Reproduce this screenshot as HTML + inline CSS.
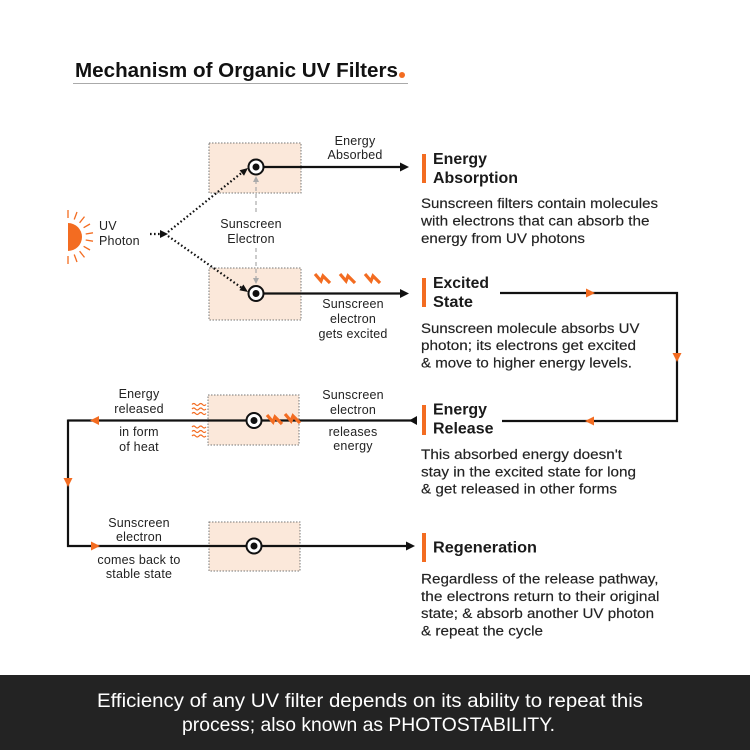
<!DOCTYPE html>
<html><head><meta charset="utf-8"><style>
html,body{margin:0;padding:0;background:#fff;}
svg{display:block;font-family:"Liberation Sans",Arial,sans-serif;}
.lbl{font-size:12.5px;fill:#222;letter-spacing:0.2px;text-anchor:middle;}
.hd{font-size:15.5px;font-weight:bold;fill:#1a1a1a;}
.bd{font-size:13.5px;fill:#222;stroke:#222;stroke-width:0.15px;}
</style></head><body>
<svg width="750" height="750" viewBox="0 0 750 750" xmlns="http://www.w3.org/2000/svg">
<rect width="750" height="750" fill="#fff"/>
<!-- Title -->
<text x="75" y="77" font-size="20" font-weight="bold" fill="#111" textLength="323" lengthAdjust="spacingAndGlyphs">Mechanism of Organic UV Filters</text>
<circle cx="402" cy="75" r="3" fill="#f36c21"/>
<line x1="73" y1="83.5" x2="408" y2="83.5" stroke="#aaa" stroke-width="1"/>

<!-- Boxes -->
<g fill="#fbe8da" stroke="#777" stroke-width="1" stroke-dasharray="1.5 1.5">
<rect x="209" y="143" width="92" height="50"/>
<rect x="209" y="268" width="92" height="52"/>
<rect x="208" y="395" width="91" height="50"/>
<rect x="209" y="522" width="91" height="49"/>
</g>

<!-- Sun -->
<path d="M68,223 A14,14 0 0 1 68,251 Z" fill="#f36c21"/>
<g stroke="#f36c21" stroke-width="1.3">
<line x1="68" y1="218" x2="68" y2="210"/>
<line x1="74.2" y1="219.5" x2="77" y2="212"/>
<line x1="79.6" y1="222.8" x2="84.5" y2="216.6"/>
<line x1="83.6" y1="227.7" x2="90" y2="224"/>
<line x1="85.7" y1="234" x2="93" y2="232.8"/>
<line x1="85.7" y1="240" x2="93" y2="241.2"/>
<line x1="83.6" y1="246.3" x2="90" y2="250"/>
<line x1="79.6" y1="251.2" x2="84.5" y2="257.4"/>
<line x1="74.2" y1="254.5" x2="77" y2="262"/>
<line x1="68" y1="256" x2="68" y2="264"/>
</g>
<text x="99" y="230" font-size="12.5" fill="#222" letter-spacing="0.2">UV</text>
<text x="99" y="245" font-size="12.5" fill="#222" letter-spacing="0.2">Photon</text>

<!-- Dotted photon lines -->
<g stroke="#111" stroke-width="2.2" stroke-dasharray="1.6 2.4" fill="none">
<line x1="150" y1="234" x2="161" y2="234"/>
<line x1="168" y1="232" x2="242" y2="172.5"/>
<line x1="168" y1="236" x2="242" y2="288"/>
</g>
<polygon points="168,234 160,230 160,238" fill="#111"/>
<polygon points="248,168 244,175.7 239.6,170.3" fill="#111"/>
<polygon points="248,292 239.4,290.3 243.4,284.5" fill="#111"/>

<!-- Gray dashed vertical -->
<g stroke="#aaa" stroke-width="1.2" stroke-dasharray="4 3">
<line x1="256" y1="180" x2="256" y2="214"/>
<line x1="256" y1="248" x2="256" y2="280"/>
</g>
<polygon points="256,176 253,182 259,182" fill="#aaa"/>
<polygon points="256,284 253,278 259,278" fill="#aaa"/>
<text class="lbl" x="251" y="228">Sunscreen</text>
<text class="lbl" x="251" y="243">Electron</text>

<!-- Black connector lines -->
<g stroke="#111" stroke-width="2.2" fill="none">
<line x1="262" y1="167" x2="401" y2="167"/>
<line x1="262" y1="293.5" x2="401" y2="293.5"/>
<line x1="68" y1="420.5" x2="412" y2="420.5"/>
<line x1="68" y1="419.5" x2="68" y2="547"/>
<line x1="67" y1="546" x2="407" y2="546"/>
<polyline points="500,293 677,293 677,421 502,421"/>
</g>
<polygon points="409,167 400,162.5 400,171.5" fill="#111"/>
<polygon points="409,293.5 400,289 400,298" fill="#111"/>
<polygon points="409,420.5 417,416 417,425" fill="#111"/>
<polygon points="415,546 406,541.5 406,550.5" fill="#111"/>

<!-- Orange flow arrows -->
<g fill="#f36c21">
<polygon points="595,293 586,288.5 586,297.5"/>
<polygon points="677,362 672.5,353 681.5,353"/>
<polygon points="585,421 594,416.5 594,425.5"/>
<polygon points="90,420.5 99,416 99,425"/>
<polygon points="68,487 63.5,478 72.5,478"/>
<polygon points="100,546 91,541.5 91,550.5"/>
</g>

<!-- Electron circles -->
<g>
<circle cx="256" cy="167" r="7.5" fill="#fff" stroke="#111" stroke-width="2"/>
<circle cx="256" cy="167" r="3.5" fill="#111"/>
<circle cx="256" cy="293.5" r="7.5" fill="#fff" stroke="#111" stroke-width="2"/>
<circle cx="256" cy="293.5" r="3.5" fill="#111"/>
<circle cx="254" cy="420.5" r="7.5" fill="#fff" stroke="#111" stroke-width="2"/>
<circle cx="254" cy="420.5" r="3.5" fill="#111"/>
<circle cx="254" cy="546" r="7.5" fill="#fff" stroke="#111" stroke-width="2"/>
<circle cx="254" cy="546" r="3.5" fill="#111"/>
</g>

<!-- Lightning bolts -->
<g stroke="#f36c21" stroke-width="3.2" fill="none" stroke-linejoin="miter">
<polyline points="315,274 321,281 323,276 330,283"/>
<polyline points="340,274 346,281 348,276 355,283"/>
<polyline points="365,274 371,281 373,276 380,283"/>
<polyline points="267,415 273,422 275,417 282,424"/>
<polyline points="285,414 291,421 293,416 300,423"/>
</g>

<!-- Heat waves -->
<g stroke="#f36c21" stroke-width="1.2" fill="none">
<path d="M192,404.5 q1.75,-2 3.5,0 t3.5,0 t3.5,0 t3.5,0"/>
<path d="M192,409 q1.75,-2 3.5,0 t3.5,0 t3.5,0 t3.5,0"/>
<path d="M192,413.5 q1.75,-2 3.5,0 t3.5,0 t3.5,0 t3.5,0"/>
<path d="M192,427 q1.75,-2 3.5,0 t3.5,0 t3.5,0 t3.5,0"/>
<path d="M192,431.5 q1.75,-2 3.5,0 t3.5,0 t3.5,0 t3.5,0"/>
<path d="M192,436 q1.75,-2 3.5,0 t3.5,0 t3.5,0 t3.5,0"/>
</g>

<!-- Small labels -->
<text class="lbl" x="355" y="145">Energy</text>
<text class="lbl" x="355" y="159">Absorbed</text>
<text class="lbl" x="353" y="308">Sunscreen</text>
<text class="lbl" x="353" y="323">electron</text>
<text class="lbl" x="353" y="338">gets excited</text>
<text class="lbl" x="139" y="398">Energy</text>
<text class="lbl" x="139" y="413">released</text>
<text class="lbl" x="139" y="436">in form</text>
<text class="lbl" x="139" y="451">of heat</text>
<text class="lbl" x="353" y="399">Sunscreen</text>
<text class="lbl" x="353" y="414">electron</text>
<text class="lbl" x="353" y="436">releases</text>
<text class="lbl" x="353" y="450">energy</text>
<text class="lbl" x="139" y="527">Sunscreen</text>
<text class="lbl" x="139" y="541">electron</text>
<text class="lbl" x="139" y="564">comes back to</text>
<text class="lbl" x="139" y="578">stable state</text>

<!-- Right column -->
<g fill="#f36c21">
<rect x="422" y="154" width="4" height="29"/>
<rect x="422" y="278" width="4" height="29"/>
<rect x="422" y="405" width="4" height="30"/>
<rect x="422" y="533" width="4" height="29"/>
</g>
<text class="hd" x="433" y="164" textLength="54" lengthAdjust="spacingAndGlyphs">Energy</text>
<text class="hd" x="433" y="183" textLength="85" lengthAdjust="spacingAndGlyphs">Absorption</text>
<text class="bd" x="421" y="208" textLength="237" lengthAdjust="spacingAndGlyphs">Sunscreen filters contain molecules</text>
<text class="bd" x="421" y="225.5" textLength="228.5" lengthAdjust="spacingAndGlyphs">with electrons that can absorb the</text>
<text class="bd" x="421" y="243" textLength="164" lengthAdjust="spacingAndGlyphs">energy from UV photons</text>

<text class="hd" x="433" y="288" textLength="56" lengthAdjust="spacingAndGlyphs">Excited</text>
<text class="hd" x="433" y="307" textLength="40" lengthAdjust="spacingAndGlyphs">State</text>
<text class="bd" x="421" y="333" textLength="218.5" lengthAdjust="spacingAndGlyphs">Sunscreen molecule absorbs UV</text>
<text class="bd" x="421" y="350" textLength="215" lengthAdjust="spacingAndGlyphs">photon; its electrons get excited</text>
<text class="bd" x="421" y="367.5" textLength="211" lengthAdjust="spacingAndGlyphs">&amp; move to higher energy levels.</text>

<text class="hd" x="433" y="414.5" textLength="54" lengthAdjust="spacingAndGlyphs">Energy</text>
<text class="hd" x="433" y="433.5" textLength="60.5" lengthAdjust="spacingAndGlyphs">Release</text>
<text class="bd" x="421" y="459" textLength="201" lengthAdjust="spacingAndGlyphs">This absorbed energy doesn't</text>
<text class="bd" x="421" y="476.5" textLength="215" lengthAdjust="spacingAndGlyphs">stay in the excited state for long</text>
<text class="bd" x="421" y="493.5" textLength="196" lengthAdjust="spacingAndGlyphs">&amp; get released in other forms</text>

<text class="hd" x="433" y="552.5" textLength="104" lengthAdjust="spacingAndGlyphs">Regeneration</text>
<text class="bd" x="421" y="583.5" textLength="237.5" lengthAdjust="spacingAndGlyphs">Regardless of the release pathway,</text>
<text class="bd" x="421" y="601" textLength="238.5" lengthAdjust="spacingAndGlyphs">the electrons return to their original</text>
<text class="bd" x="421" y="618" textLength="233" lengthAdjust="spacingAndGlyphs">state; &amp; absorb another UV photon</text>
<text class="bd" x="421" y="635.5" textLength="122" lengthAdjust="spacingAndGlyphs">&amp; repeat the cycle</text>

<!-- Footer -->
<rect x="0" y="675" width="750" height="75" fill="#232323"/>
<text x="97" y="707" font-size="19" fill="#fff" textLength="546" lengthAdjust="spacingAndGlyphs">Efficiency of any UV filter depends on its ability to repeat this</text>
<text x="182" y="731" font-size="19" fill="#fff" textLength="373" lengthAdjust="spacingAndGlyphs">process; also known as PHOTOSTABILITY.</text>
</svg>
</body></html>
